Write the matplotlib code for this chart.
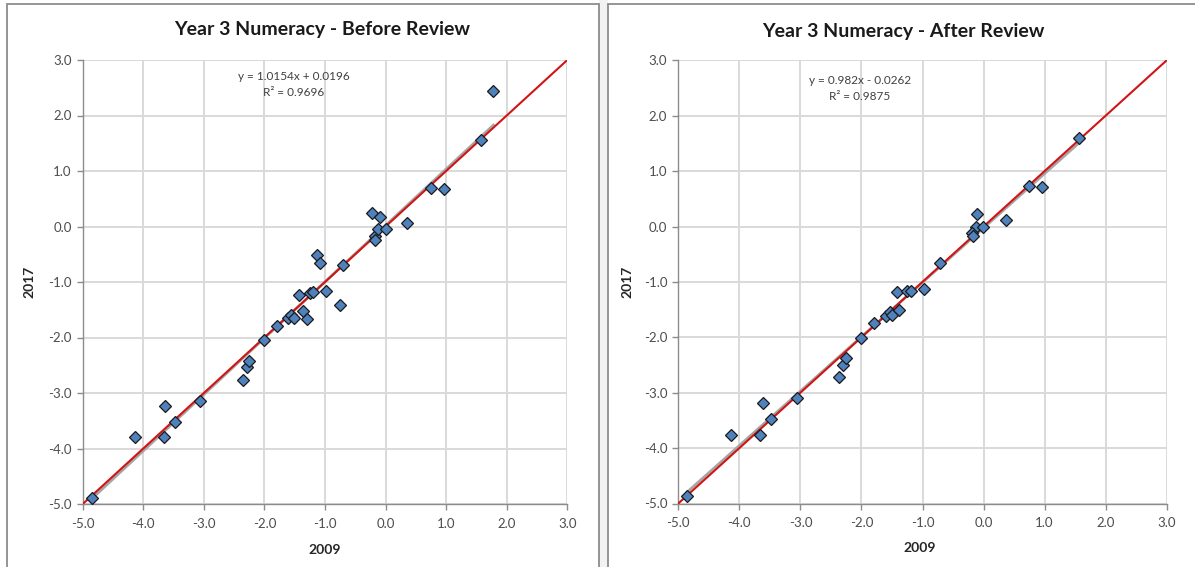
import matplotlib
matplotlib.use("Agg")
import matplotlib.pyplot as plt
from matplotlib.patches import Rectangle
import numpy as np

# ---------------- data ----------------
titles = ["Year 3 Numeracy - Before Review", "Year 3 Numeracy - After Review"]
x_label = "2009"
y_label = "2017"

before_x = [-4.85, -4.13, -3.65, -3.64, -3.48, -3.06, -2.36, -2.29, -2.25, -2.01,
            -1.79, -1.61, -1.56, -1.51, -1.43, -1.37, -1.29, -1.25, -1.19, -1.13,
            -1.08, -0.98, -0.76, -0.71, -0.22, -0.10, -0.18, -0.17, -0.12, 0.01,
            0.36, 0.755, 0.96, 1.58, 1.78]
before_y = [-4.90, -3.80, -3.80, -3.23, -3.52, -3.15, -2.77, -2.54, -2.42, -2.05,
            -1.80, -1.65, -1.59, -1.64, -1.24, -1.53, -1.67, -1.20, -1.18, -0.51,
            -0.66, -1.16, -1.41, -0.69, 0.24, 0.18, -0.17, -0.24, -0.05, -0.05,
            0.06, 0.70, 0.68, 1.55, 2.44]

after_x = [-4.85, -4.14, -3.66, -3.62, -3.48, -3.06, -2.37, -2.30, -2.25, -2.01,
           -1.79, -1.60, -1.54, -1.50, -1.42, -1.38, -1.25, -1.19, -0.98, -0.72,
           -0.10, -0.12, -0.19, -0.17, -0.01, 0.37, 0.74, 0.96, 1.57]
after_y = [-4.86, -3.76, -3.76, -3.19, -3.48, -3.09, -2.72, -2.50, -2.38, -2.01,
           -1.75, -1.61, -1.54, -1.59, -1.19, -1.50, -1.16, -1.16, -1.13, -0.65,
           0.22, 0.00, -0.12, -0.17, 0.00, 0.12, 0.74, 0.71, 1.59]

trend_slope = [1.0154, 0.982]
trend_intercept = [0.0196, -0.0262]
eq_texts = ["y = 1.0154x + 0.0196", "y = 0.982x - 0.0262"]
r2_texts = ["R² = 0.9696", "R² = 0.9875"]

axis_min, axis_max = -5.0, 3.0
ticks = [-5.0, -4.0, -3.0, -2.0, -1.0, 0.0, 1.0, 2.0, 3.0]

# ---------------- layout ----------------
W, H = 1195, 567
fig = plt.figure(figsize=(W / 100, H / 100), dpi=100)
fig.patch.set_facecolor("white")
plt.rcParams['font.family'] = ['Lato', 'DejaVu Sans']

def px_rect(x0, x1, ytop, ybot):
    return [x0 / W, 1 - ybot / H, (x1 - x0) / W, (ybot - ytop) / H]

# background strip between panels and panel borders
fig.patches.append(Rectangle((599 / W, 0), (608 - 599) / W, 1, transform=fig.transFigure,
                             facecolor="#F2F2F2", edgecolor="none", zorder=0))
fig.patches.append(Rectangle((7 / W, -0.1), (599 - 7) / W, 1.1 - 4 / H, transform=fig.transFigure,
                             facecolor="none", edgecolor="#8C8C8C", lw=1.3, zorder=1))
fig.patches.append(Rectangle((608 / W, -0.1), (1200 - 608) / W, 1.1 - 4 / H, transform=fig.transFigure,
                             facecolor="none", edgecolor="#8C8C8C", lw=1.3, zorder=1))

axes_px = [(82.7, 567.3, 60.0, 504.0), (678.3, 1166.7, 60.3, 503.5)]
title_pos = [(322, 30), (903, 32)]
xlabel_pos = [(325, 550), (920, 548)]
ylabel_pos = [(29, 282), (627, 282)]
eq_pos = [(294, 76), (860, 80)]

datasets = [(before_x, before_y), (after_x, after_y)]

for i in range(2):
    ax = fig.add_axes(px_rect(*axes_px[i]))
    ax.set_xlim(axis_min, axis_max)
    ax.set_ylim(axis_min, axis_max)
    ax.set_xticks(ticks)
    ax.set_yticks(ticks)
    ax.set_xticklabels([f"{t:.1f}" for t in ticks])
    ax.set_yticklabels([f"{t:.1f}" for t in ticks])
    ax.grid(True, color="#D9D9D9", lw=1.4, zorder=0)
    ax.set_axisbelow(True)
    for s in ["top", "right"]:
        ax.spines[s].set_visible(False)
    for s in ["left", "bottom"]:
        ax.spines[s].set_color("#8C8C8C")
        ax.spines[s].set_linewidth(1.0)
    ax.tick_params(axis="both", colors="#8C8C8C", labelcolor="#4D4D4D",
                   labelsize=9.5, length=4, width=1.0, direction="out")
    ax.tick_params(axis="x", pad=6)
    ax.tick_params(axis="y", pad=4)

    xs = np.array(datasets[i][0])
    ys = np.array(datasets[i][1])

    # linear trendline (grey) over the data range
    tx = np.array([xs.min(), xs.max()])
    ax.plot(tx, trend_slope[i] * tx + trend_intercept[i], color="#A6A6A6",
            lw=2.0, zorder=2)
    # identity line y = x (red), corner to corner
    lx = np.array([axis_min, axis_max])
    ax.plot(lx, lx, color="#D21414", lw=1.5, zorder=3)

    ax.plot(xs, ys, linestyle="none", marker="D", markersize=6.5,
            markerfacecolor="#4F81BD", markeredgecolor="#1A1A1A",
            markeredgewidth=0.9, zorder=4, clip_on=False)

    fig.text(title_pos[i][0] / W, 1 - title_pos[i][1] / H, titles[i],
             ha="center", va="center", fontsize=14, fontweight="bold", color="#1A1A1A")
    fig.text(xlabel_pos[i][0] / W, 1 - xlabel_pos[i][1] / H, x_label,
             ha="center", va="center", fontsize=10, fontweight="bold", color="#262626")
    fig.text(ylabel_pos[i][0] / W, 1 - ylabel_pos[i][1] / H, y_label, rotation=90,
             ha="center", va="center", fontsize=10, fontweight="bold", color="#262626")
    fig.text(eq_pos[i][0] / W, 1 - eq_pos[i][1] / H, eq_texts[i],
             ha="center", va="center", fontsize=8.5, color="#404040")
    fig.text(eq_pos[i][0] / W, 1 - (eq_pos[i][1] + 17) / H, r2_texts[i],
             ha="center", va="center", fontsize=8.5, color="#404040")

fig.savefig("out.png", dpi=100)
